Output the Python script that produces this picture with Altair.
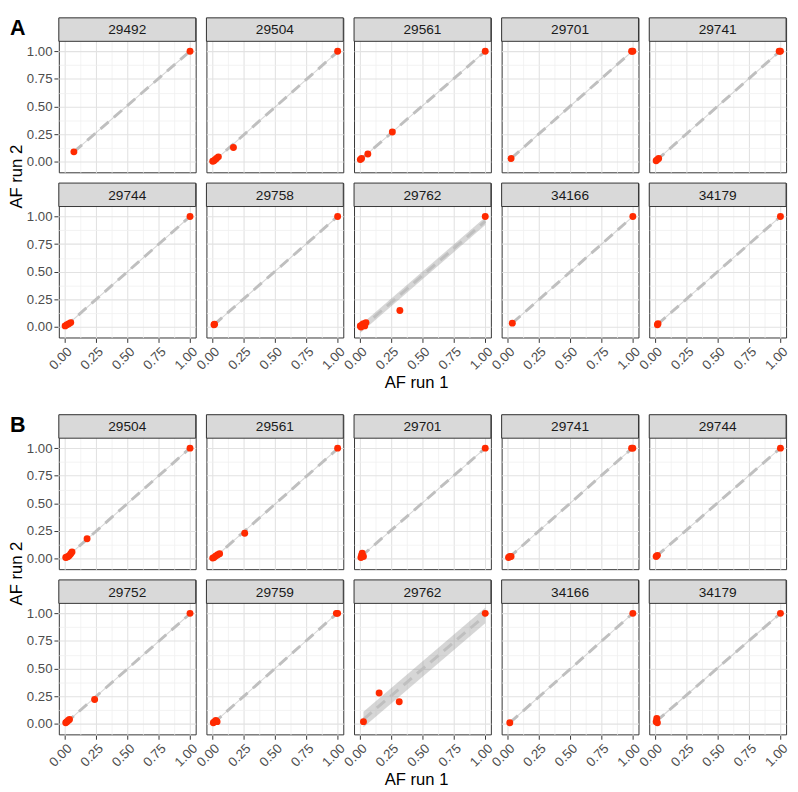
import altair as alt
import numpy as np
import pandas as pd

# ---------------- data ----------------
A_IDS = ["29492", "29504", "29561", "29701", "29741",
         "29744", "29758", "29762", "34166", "34179"]
A_X = [
    [0.075, 1.0],
    [0.005, 0.015, 0.025, 0.035, 0.05, 0.17, 1.0],
    [0.005, 0.015, 0.065, 0.26, 1.0],
    [0.03, 0.99, 1.0],
    [0.01, 0.02, 0.03, 0.99, 1.0],
    [0.005, 0.02, 0.035, 0.05, 1.0],
    [0.015, 0.02, 1.0],
    [0.005, 0.01, 0.02, 0.03, 0.04, 0.05, 0.32, 1.0],
    [0.04, 1.0],
    [0.02, 0.025, 1.0],
]
A_Y = [
    [0.09, 1.0],
    [0.005, 0.01, 0.02, 0.03, 0.045, 0.13, 1.0],
    [0.02, 0.03, 0.07, 0.27, 1.0],
    [0.03, 1.0, 1.0],
    [0.01, 0.02, 0.03, 1.0, 1.0],
    [0.01, 0.02, 0.03, 0.04, 1.0],
    [0.02, 0.025, 1.0],
    [0.01, 0.0, 0.02, 0.03, 0.01, 0.04, 0.15, 1.0],
    [0.035, 1.0],
    [0.02, 0.03, 1.0],
]
# half-width of the grey smoothing band
A_BAND = [0.006, 0.006, 0.006, 0.006, 0.006, 0.006, 0.006, 0.035, 0.006, 0.006]

B_IDS = ["29504", "29561", "29701", "29741", "29744",
         "29752", "29759", "29762", "34166", "34179"]
B_X = [
    [0.01, 0.02, 0.03, 0.04, 0.05, 0.06, 0.18, 1.0],
    [0.005, 0.015, 0.03, 0.045, 0.06, 0.26, 1.0],
    [0.01, 0.015, 0.02, 0.03, 1.0],
    [0.01, 0.02, 0.03, 0.99, 1.0],
    [0.01, 0.02, 1.0],
    [0.01, 0.02, 0.03, 0.04, 0.24, 1.0],
    [0.01, 0.02, 0.03, 0.04, 0.99, 1.0],
    [0.03, 0.155, 0.315, 1.0],
    [0.02, 1.0],
    [0.01, 0.015, 0.02, 1.0],
]
B_Y = [
    [0.01, 0.015, 0.02, 0.03, 0.045, 0.06, 0.18, 1.0],
    [0.005, 0.01, 0.025, 0.035, 0.045, 0.23, 1.0],
    [0.01, 0.03, 0.05, 0.02, 1.0],
    [0.01, 0.02, 0.02, 1.0, 1.0],
    [0.02, 0.03, 1.0],
    [0.01, 0.02, 0.03, 0.04, 0.22, 1.0],
    [0.01, 0.02, 0.03, 0.02, 1.0, 1.0],
    [0.02, 0.28, 0.20, 1.0],
    [0.01, 1.0],
    [0.02, 0.05, 0.01, 1.0],
]
B_BAND = [0.006, 0.006, 0.006, 0.006, 0.006, 0.006, 0.006, 0.07, 0.006, 0.008]

TICKS = [0, 0.125, 0.25, 0.375, 0.5, 0.625, 0.75, 0.875, 1.0]
X_TITLE = "AF run 1"
Y_TITLE = "AF run 2"

# ---------------- layout / style ----------------
W = 140          # panel width
P = 134          # plot height
S = 24           # strip height
H = P + S
GAP = 9
YLAB_W = 16      # width of the column holding the y title and the panel letter
AXIS_W = 34      # estimated width of the y axis (labels + ticks)
GRID_W = 5 * W + 4 * GAP
GRID_H = 2 * H + GAP
XDOM = [-0.045, 1.045]
YLO, YHI = -0.095, 1.09
YTOP = YHI + S * (YHI - YLO) / P
FONT = "Liberation Sans"
RED = "#ff2a00"


def build(ids, xs, ys, bands):
    rows = []
    for i, (pid, x, y, hw) in enumerate(zip(ids, xs, ys, bands)):
        r, c = divmod(i, 5)
        base = dict(id=pid, r=r, c=c)
        for a, b in zip(x, y):
            rows.append({**base, "kind": "pt", "x": a, "y": b})
        rows.append({**base, "kind": "strip"})
        xa, ya = np.array(x, float), np.array(y, float)
        slope, icpt = np.polyfit(xa, ya, 1)
        for g in (xa.min(), xa.max()):
            f = float(icpt + slope * g)
            rows.append({**base, "kind": "fit", "x": float(g), "fit": f,
                         "lo": f - hw, "hi": f + hw})
    return pd.DataFrame(rows)


LABEL_EXPR = "datum.value % 0.25 == 0 ? format(datum.value, '.2f') : ''"
GRID_COLOR = {"condition": {"test": "datum.value % 0.25 != 0", "value": "#f0f0f0"},
              "value": "#e2e2e2"}
GRID_WIDTH = {"condition": {"test": "datum.value % 0.25 != 0", "value": 0.8},
              "value": 1.1}
TICK_COLOR = {"condition": {"test": "datum.value % 0.25 != 0", "value": "transparent"},
              "value": "#333333"}


def xenc(field="x"):
    return alt.X(f"{field}:Q",
                 scale=alt.Scale(domain=XDOM, nice=False, zero=False),
                 axis=alt.Axis(values=TICKS, title=None, labelExpr=LABEL_EXPR,
                               gridColor=GRID_COLOR, gridWidth=GRID_WIDTH,
                               tickColor=TICK_COLOR, labelAngle=-45,
                               labelAlign="right", labelBaseline="top"))


def yenc(field):
    return alt.Y(f"{field}:Q",
                 scale=alt.Scale(domain=[YLO, YTOP], nice=False, zero=False),
                 axis=alt.Axis(values=TICKS, title=None, labelExpr=LABEL_EXPR,
                               gridColor=GRID_COLOR, gridWidth=GRID_WIDTH,
                               tickColor=TICK_COLOR))


NOFRAME = alt.ViewBackground(strokeOpacity=0)


def block(df, letter):
    is_fit = alt.datum.kind == "fit"
    band = alt.Chart().mark_area(color="#999999", opacity=0.4, clip=True).encode(
        x=xenc(), y=yenc("lo"), y2="hi:Q").transform_filter(is_fit)
    dashed = alt.Chart().mark_line(color="#bfbfbf", strokeWidth=3,
                                   strokeDash=[11, 7], clip=True).encode(
        x=xenc(), y=yenc("fit")).transform_filter(is_fit)
    pts = alt.Chart().mark_circle(size=50, color=RED, opacity=1).encode(
        x=xenc(), y=yenc("y")).transform_filter(alt.datum.kind == "pt")
    strip = alt.Chart().mark_rect(fill="#d9d9d9", stroke="#333333", strokeWidth=1).encode(
        x=alt.value(0), x2=alt.value(W), y=alt.value(0), y2=alt.value(S)
    ).transform_filter(alt.datum.kind == "strip")
    stext = alt.Chart().mark_text(font=FONT, fontSize=14, color="#1a1a1a",
                                  baseline="middle", align="center").encode(
        text="id:N", x=alt.value(W / 2), y=alt.value(S / 2 + 1)
    ).transform_filter(alt.datum.kind == "strip")

    lay = alt.layer(band, dashed, pts, strip, stext, data=df).properties(
        width=W, height=H)
    fac = lay.facet(
        row=alt.Row("r:O", title=None, header=None),
        column=alt.Column("c:O", title=None, header=None),
        spacing=alt.RowColnumber(row=GAP, column=GAP),
    )

    # left column: panel letter + rotated y title
    letter_mark = alt.Chart(pd.DataFrame({"t": [letter]})).mark_text(
        font=FONT, fontSize=22, fontWeight="bold", color="#000000",
        align="left", baseline="alphabetic").encode(
        text="t:N", x=alt.value(2), y=alt.value(18))
    ytitle_mark = alt.Chart(pd.DataFrame({"t": [Y_TITLE]})).mark_text(
        font=FONT, fontSize=17, color="#000000", angle=270,
        align="center", baseline="middle").encode(
        text="t:N", x=alt.value(9), y=alt.value(GRID_H / 2))
    ylab = alt.layer(letter_mark, ytitle_mark).properties(
        width=YLAB_W, height=GRID_H, view=NOFRAME)

    xt = alt.Chart(pd.DataFrame({"t": [X_TITLE]})).mark_text(
        font=FONT, fontSize=17, color="#000000", baseline="middle", align="center"
    ).encode(
        text="t:N", x=alt.value(YLAB_W + AXIS_W + GRID_W / 2), y=alt.value(9)
    ).properties(width=YLAB_W + AXIS_W + GRID_W, height=18, view=NOFRAME)

    return alt.vconcat(alt.hconcat(ylab, fac, spacing=0), xt, spacing=2)


chart = alt.vconcat(
    block(build(A_IDS, A_X, A_Y, A_BAND), "A"),
    block(build(B_IDS, B_X, B_Y, B_BAND), "B"),
    spacing=22,
).properties(padding=0).configure_view(
    stroke="#333333", strokeWidth=1
).configure_axis(
    domain=False, tickSize=4, labelFont=FONT, labelFontSize=13.5,
    labelColor="#4d4d4d", labelPadding=2
)

chart.save("out.html", embed_options={"renderer": "svg", "actions": False})
